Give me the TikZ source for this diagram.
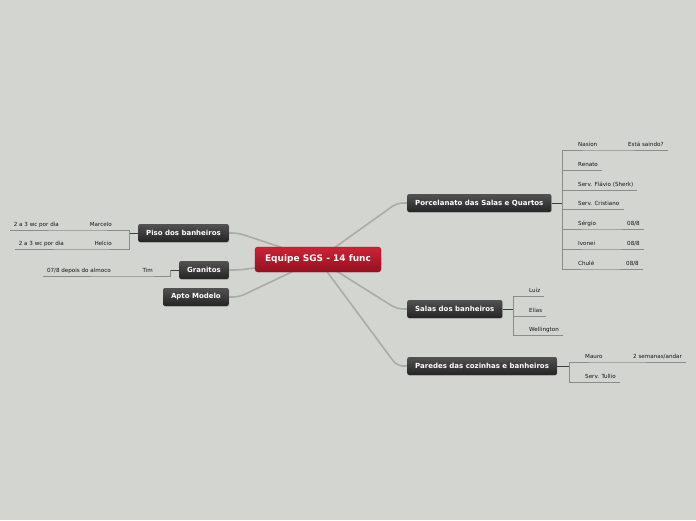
\documentclass[tikz,border=0pt]{standalone}
\usepackage{fontspec}
\setmainfont{DejaVu Sans}
\usetikzlibrary{backgrounds,shadows}
\definecolor{canvasgray}{RGB}{211,213,209}
\definecolor{rootred}{RGB}{205,34,54}
\definecolor{rootdark}{RGB}{150,16,34}
\definecolor{topicgray}{RGB}{82,82,82}
\definecolor{topicdark}{RGB}{36,36,36}
\definecolor{branchgray}{RGB}{170,172,168}
\definecolor{twiggray}{RGB}{138,140,136}
\definecolor{stemgray}{RGB}{62,62,62}
\tikzset{
  branch/.style={branchgray,line width=1.6pt,rounded corners=6pt,line cap=round},
  stem/.style={stemgray,line width=1pt},
  twig/.style={twiggray,line width=0.8pt},
  root/.style={draw=rootdark,line width=0.4pt,top color=rootred,bottom color=rootdark,
               rounded corners=3pt,minimum width=126pt,minimum height=25pt,
               text=white,font=\fontsize{9}{10}\selectfont\bfseries},
  topic/.style={top color=topicgray,bottom color=topicdark,rounded corners=2pt,
                minimum height=18pt,inner xsep=8pt,text=white,
                font=\fontsize{7}{8}\selectfont\bfseries,
                drop shadow={opacity=0.25,shadow xshift=0.6pt,shadow yshift=-0.8pt}},
  leaf/.style={font=\fontsize{5.6}{6.5}\selectfont,text=black!92,inner xsep=4pt,
               inner ysep=1.8pt,text height=4pt,text depth=1.1pt},
  rleaf/.style={leaf,anchor=south west},
  lleaf/.style={leaf,anchor=south east},
}
\begin{document}
\begin{tikzpicture}[x=1pt,y=-1pt]
  % central topic and main branches
  \node[root] (eq) at (318,259.5) {Equipe SGS - 14 func};
  \node[topic,anchor=west] (por) at (407,203) {Porcelanato das Salas e Quartos};
  \node[topic,anchor=west] (sal) at (407,309) {Salas dos banheiros};
  \node[topic,anchor=west] (par) at (407,366) {Paredes das cozinhas e banheiros};
  \node[topic,anchor=east] (pis) at (229,233) {Piso dos banheiros};
  \node[topic,anchor=east] (gra) at (229,270) {Granitos};
  \node[topic,anchor=east] (apt) at (229,297) {Apto Modelo};

  \coordinate (porB) at (562,203);
  \coordinate (salB) at (513,309);
  \coordinate (parB) at (569,366);
  \coordinate (pisB) at (129,233);
  \coordinate (graB) at (170,270);

  % Porcelanato
  \node[rleaf] (nas) at (574,150) {Nasion};
  \node[rleaf] (sai) at (624,150) {Está saindo?};
  \node[rleaf] (ren) at (574,170) {Renato};
  \node[rleaf] (fla) at (574,190) {Serv. Flávio (Sherk)};
  \node[rleaf] (cri) at (574,209) {Serv. Cristiano};
  \node[rleaf] (ser) at (574,229) {Sérgio};
  \node[rleaf] (serd) at (623,229) {08/8};
  \node[rleaf] (ivo) at (574,249) {Ivonei};
  \node[rleaf] (ivod) at (623,249) {08/8};
  \node[rleaf] (chu) at (574,269) {Chulé};
  \node[rleaf] (chud) at (622,269) {08/8};
  % Salas
  \node[rleaf] (lui) at (525,296) {Luiz};
  \node[rleaf] (eli) at (525,316) {Elias};
  \node[rleaf] (wel) at (525,335) {Wellington};
  % Paredes
  \node[rleaf] (mau) at (581,362) {Mauro};
  \node[rleaf] (sem) at (629,362) {2 semanas/andar};
  \node[rleaf] (tul) at (581,382) {Serv. Tullio};
  % Piso
  \node[lleaf] (mar) at (116,230) {Marcelo};
  \node[lleaf] (diaA) at (63,230) {2 a 3 wc por dia};
  \node[lleaf] (hel) at (116,249) {Helcio};
  \node[lleaf] (diaB) at (68,249) {2 a 3 wc por dia};
  % Granitos
  \node[lleaf] (tim) at (157,276) {Tim};
  \node[lleaf] (alm) at (115,276) {07/8 depois do almoco};

  \begin{scope}[on background layer]
    \fill[canvasgray] (0,0) rectangle (696,520);
    \draw[branch] (eq.center) -- ([xshift=-10pt]por.west) -- (por.west);
    \draw[branch] (eq.center) -- ([xshift=-10pt]sal.west) -- (sal.west);
    \draw[branch] (eq.center) -- ([xshift=-10pt]par.west) -- (par.west);
    \draw[branch] (eq.center) -- ([xshift=9pt]pis.east) -- (pis.east);
    \draw[branch] (eq.center) -- ([xshift=10pt]gra.east) -- (gra.east);
    \draw[branch] (eq.center) -- ([xshift=10pt]apt.east) -- (apt.east);
  \end{scope}

  \draw[stem] (por.east) -- (porB);
  \draw[stem] (sal.east) -- (salB);
  \draw[stem] (par.east) -- (parB);
  \draw[stem] (pis.west) -- (pisB);
  \draw[stem] (gra.west) -- (graB);

  \draw[twig] (porB) |- (nas.south east) -- (sai.south east);
  \draw[twig] (porB) |- (ren.south east);
  \draw[twig] (porB) |- (fla.south east);
  \draw[twig] (porB) |- (cri.south east);
  \draw[twig] (porB) |- (ser.south east) -- (serd.south east);
  \draw[twig] (porB) |- (ivo.south east) -- (ivod.south east);
  \draw[twig] (porB) |- (chu.south east) -- (chud.south east);
  \draw[twig] (salB) |- (lui.south east);
  \draw[twig] (salB) |- (eli.south east);
  \draw[twig] (salB) |- (wel.south east);
  \draw[twig] (parB) |- (mau.south east) -- (sem.south east);
  \draw[twig] (parB) |- (tul.south east);
  \draw[twig] (pisB) |- (mar.south west) -- (diaA.south west);
  \draw[twig] (pisB) |- (hel.south west) -- (diaB.south west);
  \draw[twig] (graB) |- (tim.south west) -- (alm.south west);
\end{tikzpicture}
\end{document}
